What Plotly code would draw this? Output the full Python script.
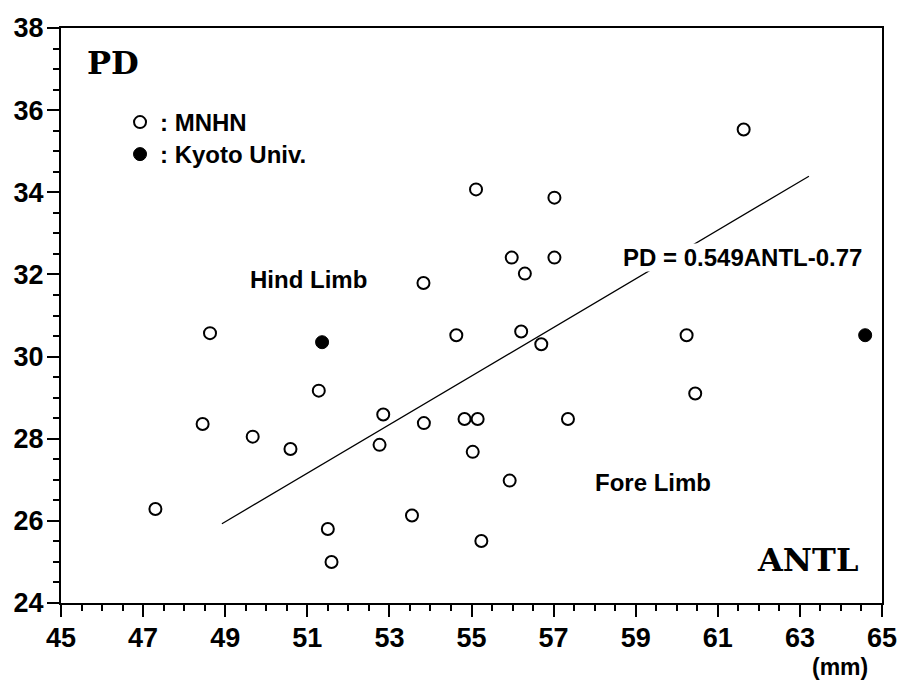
import plotly.graph_objects as go

# MNHN specimens (open circles)
mnhn_antl = [47.30, 48.45, 48.63, 49.67, 50.59, 51.28, 51.50, 51.59, 52.76, 52.85,
             53.55, 53.83, 53.84, 54.63, 54.83, 55.03, 55.11, 55.15, 55.24, 55.93,
             55.98, 56.21, 56.30, 56.70, 57.02, 57.02, 57.35, 60.24, 60.45, 61.63]
mnhn_pd = [26.29, 28.36, 30.57, 28.05, 27.75, 29.17, 25.80, 25.00, 27.85, 28.59,
           26.13, 31.79, 28.38, 30.52, 28.48, 27.68, 34.07, 28.48, 25.51, 26.98,
           32.41, 30.61, 32.02, 30.30, 33.87, 32.41, 28.48, 30.52, 29.10, 35.53]

# Kyoto Univ. specimens (filled circles)
kyoto_antl = [51.36, 64.59]
kyoto_pd = [30.35, 30.52]

# Regression line as drawn
reg_antl = [48.92, 63.22]
reg_pd = [25.93, 34.39]

x_ticks = [45, 47, 49, 51, 53, 55, 57, 59, 61, 63, 65]
y_ticks = [24, 26, 28, 30, 32, 34, 36, 38]

SANS = "Liberation Sans"
SERIF = "DejaVu Serif"

fig = go.Figure()
fig.add_trace(go.Scatter(x=reg_antl, y=reg_pd, mode="lines",
                         line=dict(color="black", width=1.3), showlegend=False))
fig.add_trace(go.Scatter(x=mnhn_antl, y=mnhn_pd, mode="markers", name=": MNHN",
                         legend="legend",
                         marker=dict(symbol="circle", size=12, color="white",
                                     line=dict(color="black", width=2))))
fig.add_trace(go.Scatter(x=kyoto_antl, y=kyoto_pd, mode="markers", name=": Kyoto Univ.",
                         legend="legend2",
                         marker=dict(symbol="circle", size=13, color="black",
                                     line=dict(color="black", width=1))))

axis_common = dict(showgrid=False, zeroline=False, showline=True, linecolor="black",
                   linewidth=2, mirror=True, ticks="outside", ticklen=12, tickwidth=2,
                   tickcolor="black", automargin=False, ticklabelstandoff=-2,
                   tickfont=dict(family=SANS, size=27, color="black", weight="bold"))

fig.update_xaxes(range=[45, 65], tickmode="array", tickvals=x_ticks,
                 ticktext=[str(v) for v in x_ticks],
                 minor=dict(dtick=0.5, tick0=45, ticks="outside", ticklen=6,
                            tickwidth=2, tickcolor="black"),
                 **axis_common)
fig.update_yaxes(range=[24, 38], tickmode="array", tickvals=y_ticks,
                 ticktext=[str(v) for v in y_ticks],
                 minor=dict(dtick=0.5, tick0=24, ticks="outside", ticklen=6,
                            tickwidth=2, tickcolor="black"),
                 **axis_common)

annotations = [
    dict(x=51.02, y=31.87, xref="x", yref="y", text="Hind Limb", showarrow=False,
         font=dict(family=SANS, size=24, color="black", weight="bold")),
    dict(x=59.43, y=26.93, xref="x", yref="y", text="Fore Limb", showarrow=False,
         font=dict(family=SANS, size=24, color="black", weight="bold")),
    dict(x=61.6, y=32.42, xref="x", yref="y", text="PD = 0.549ANTL-0.77", showarrow=False,
         bgcolor="white", borderpad=0,
         font=dict(family=SANS, size=24, color="black", weight="bold")),
    dict(x=0.0639, y=0.9391, xref="paper", yref="paper", text="PD",
         showarrow=False, font=dict(family=SERIF, size=32, color="black", weight="bold")),
    dict(x=0.9087, y=0.0748, xref="paper", yref="paper", text="ANTL",
         showarrow=False, font=dict(family=SERIF, size=32, color="black", weight="bold")),
    dict(x=0.9488, y=-0.1113, xref="paper", yref="paper", text="(mm)",
         showarrow=False, font=dict(family=SANS, size=23, color="black", weight="bold")),
]

legend_common = dict(xanchor="left", yanchor="top", bgcolor="rgba(0,0,0,0)",
                     itemwidth=30, borderwidth=0,
                     font=dict(family=SANS, size=24, color="black", weight="bold"))

fig.update_layout(
    width=900, height=680,
    margin=dict(l=61, r=18, t=28, b=77),
    plot_bgcolor="white", paper_bgcolor="white",
    annotations=annotations,
    showlegend=True,
    legend=dict(x=0.0719, y=0.8748, **legend_common),
    legend2=dict(x=0.0719, y=0.8191, **legend_common),
)
for a in fig.layout.annotations:
    a.xanchor = "center"
    a.yanchor = "middle"

fig.write_html("out.html")
